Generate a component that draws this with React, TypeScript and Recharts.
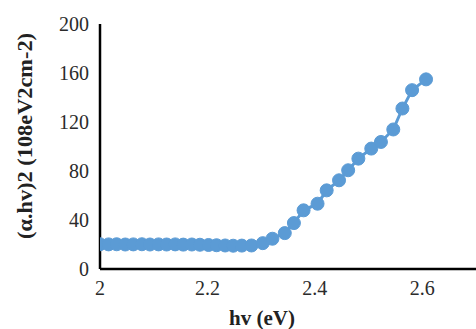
import { LineChart, Line, XAxis, YAxis, Label } from 'recharts';

// photon energy (eV)
const hv = [
    2.0, 2.016, 2.031, 2.047, 2.062, 2.078, 2.093, 2.109, 2.124, 2.14, 2.155, 2.171,
    2.186, 2.202, 2.217, 2.233, 2.248, 2.264, 2.282, 2.303, 2.321, 2.344, 2.361, 2.379,
    2.405, 2.422, 2.445, 2.462, 2.481, 2.505, 2.523, 2.546, 2.563, 2.581, 2.607,
];

// (alpha.hv)^2 values
const alphaHv2 = [
    20.2, 20.1, 20.2, 20.0, 20.1, 20.2, 20.0, 20.1, 20.0, 20.1, 19.9, 20.0,
    19.8, 19.6, 19.4, 19.2, 19.0, 19.1, 19.2, 21.1, 24.7, 29.3, 37.5, 47.9,
    53.3, 64.2, 72.4, 80.6, 90.1, 98.3, 103.7, 113.9, 131.0, 146.0, 154.8,
];

const xTicks = [2, 2.2, 2.4, 2.6];
const yTicks = [0, 40, 80, 120, 160, 200];

const data = hv.map((x, i) => ({ hv: x, y: alphaHv2[i] }));

const blue = '#5B9BD5';
const serif = '"Liberation Serif", "Times New Roman", serif';

export default function App() {
    return (
        <div style={{ position: 'absolute', left: 0, top: 0, width: 476, height: 329, background: '#fff' }}>
            <LineChart width={476} height={329} data={data} margin={{ top: 24, right: 0, bottom: 8, left: 0 }}>
                <XAxis
                    type="number"
                    dataKey="hv"
                    domain={[2, 2.7]}
                    ticks={xTicks}
                    allowDataOverflow
                    height={52}
                    stroke="#000"
                    strokeWidth={2.5}
                    tickLine={false}
                    tickSize={0}
                    tickMargin={12}
                    tick={{ fill: '#2b2b2b', fontSize: 20, fontFamily: serif }}
                >
                    <Label
                        content={() => (
                            <text x={262} y={325} textAnchor="middle" fontFamily={serif} fontWeight="bold" fontSize={21} fill="#222">
                                hv (eV)
                            </text>
                        )}
                    />
                </XAxis>
                <YAxis
                    type="number"
                    domain={[0, 200]}
                    ticks={yTicks}
                    width={100}
                    stroke="#000"
                    strokeWidth={2.5}
                    tickLine={false}
                    tickSize={0}
                    tickMargin={11}
                    tick={{ fill: '#2b2b2b', fontSize: 20, fontFamily: serif }}
                >
                    <Label
                        content={() => (
                            <text
                                x={25}
                                y={136}
                                transform="rotate(-90 25 136)"
                                textAnchor="middle"
                                dominantBaseline="central"
                                fontFamily={serif}
                                fontWeight="bold"
                                fontSize={20}
                                textLength={206}
                                lengthAdjust="spacingAndGlyphs"
                                fill="#222"
                            >
                                (α.hv)2 (108eV2cm-2)
                            </text>
                        )}
                    />
                </YAxis>
                <Line
                    dataKey="y"
                    stroke={blue}
                    strokeWidth={3}
                    dot={{ r: 6.5, fill: blue, stroke: blue, strokeWidth: 1 }}
                    isAnimationActive={false}
                />
            </LineChart>
        </div>
    );
}
